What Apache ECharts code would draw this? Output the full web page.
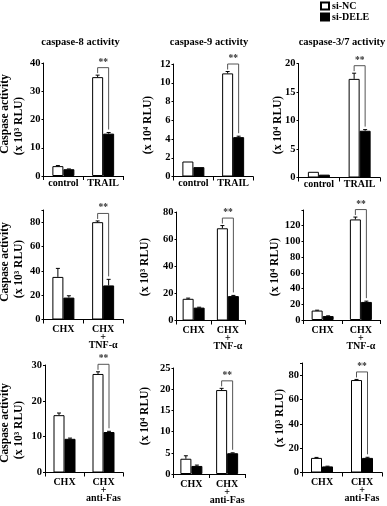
<!DOCTYPE html>
<html><head><meta charset="utf-8">
<script src="https://cdn.jsdelivr.net/npm/echarts@6/dist/echarts.min.js"></script>
<style>html,body{margin:0;padding:0;background:#fff}#c{width:387px;height:506px}</style>
</head><body><div id="c"></div>
<script>
// ---------- categories ----------
const catsTRAIL = ['control', 'TRAIL'];
const catsTNF = ['CHX', 'CHX\n+\nTNF-α'];
const catsFas = ['CHX', 'CHX\n+\nanti-Fas'];
const seriesNames = ['si-NC', 'si-DELE'];
const colTitles = ['caspase-8 activity', 'caspase-9 activity', 'caspase-3/7 activity'];
const sigMarks = ['', '**'];

// ---------- row 1: TRAIL ----------
const c8TrailNC = [3.5, 35], c8TrailNCErr = [0.2, 0.7];
const c8TrailDELE = [2.4, 15], c8TrailDELEErr = [0.1, 0.4];
const c8TrailTicks = [0, 10, 20, 30, 40];

const c9TrailNC = [1.6, 11.0], c9TrailNCErr = [0, 0.2];
const c9TrailDELE = [1.0, 4.2], c9TrailDELEErr = [0, 0.1];
const c9TrailTicks = [0, 2, 4, 6, 8, 10, 12];

const c37TrailNC = [1.0, 17.3], c37TrailNCErr = [0, 1.0];
const c37TrailDELE = [0.5, 8.2], c37TrailDELEErr = [0, 0.2];
const c37TrailTicks = [0, 5, 10, 15, 20];

// ---------- row 2: CHX + TNF-α ----------
const c8TnfNC = [35, 80], c8TnfNCErr = [7, 1];
const c8TnfDELE = [18, 28], c8TnfDELEErr = [1.5, 5];
const c8TnfTicks = [0, 20, 40, 60, 80];

const c9TnfNC = [16, 68], c9TnfNCErr = [0.5, 2];
const c9TnfDELE = [9.5, 18], c9TnfDELEErr = [0.3, 0.5];
const c9TnfTicks = [0, 20, 40, 60, 80];

const c37TnfNC = [12, 128], c37TnfNCErr = [0.5, 3];
const c37TnfDELE = [5, 23], c37TnfDELEErr = [0.3, 1];
const c37TnfTicks = [0, 20, 40, 60, 80, 100, 120];

// ---------- row 3: CHX + anti-Fas ----------
const c8FasNC = [16, 27.5], c8FasNCErr = [0.6, 0.6];
const c8FasDELE = [9.4, 11.3], c8FasDELEErr = [0.2, 0.2];
const c8FasTicks = [0, 10, 20, 30];

const c9FasNC = [3.6, 19.8], c9FasNCErr = [0.7, 0.4];
const c9FasDELE = [1.9, 4.9], c9FasDELEErr = [0.2, 0.1];
const c9FasTicks = [0, 5, 10, 15, 20, 25];

const c37FasNC = [12, 76], c37FasNCErr = [0.4, 0.5];
const c37FasDELE = [5, 12], c37FasDELEErr = [0.2, 0.5];
const c37FasTicks = [0, 20, 40, 60, 80];

// ---------- layout / style ----------
const FONT = '"Liberation Serif", "Times New Roman", serif';
const BAR_W = 11;
const panels = [
  {cats: catsTRAIL, nc: c8TrailNC, ncE: c8TrailNCErr, de: c8TrailDELE, deE: c8TrailDELEErr, ticks: c8TrailTicks, max: 40,
   box: [43.5, 63, 123, 176], lm: 3, names: [['Caspase activity', 5.5, 114], ['(x 10³ RLU)', 19.5, 126]]},
  {cats: catsTRAIL, nc: c9TrailNC, ncE: c9TrailNCErr, de: c9TrailDELE, deE: c9TrailDELEErr, ticks: c9TrailTicks, max: 12,
   box: [173.5, 64, 253, 176.5], lm: 3, names: [['(x 10⁴ RLU)', 148, 125]]},
  {cats: catsTRAIL, nc: c37TrailNC, ncE: c37TrailNCErr, de: c37TrailDELE, deE: c37TrailDELEErr, ticks: c37TrailTicks, max: 20,
   box: [298.5, 63.5, 380, 177.5], lm: 3, names: [['(x 10⁴ RLU)', 278, 125]]},
  {cats: catsTNF, nc: c8TnfNC, ncE: c8TnfNCErr, de: c8TnfDELE, deE: c8TnfDELEErr, ticks: c8TnfTicks, max: 90,
   box: [43.5, 210, 123, 319.5], lm: 6, names: [['Caspase activity', 5.5, 262], ['(x 10³ RLU)', 19.5, 269]]},
  {cats: catsTNF, nc: c9TnfNC, ncE: c9TnfNCErr, de: c9TnfDELE, deE: c9TnfDELEErr, ticks: c9TnfTicks, max: 80,
   box: [176.5, 212, 245, 320.5], lm: 6, names: [['(x 10³ RLU)', 145, 267]]},
  {cats: catsTNF, nc: c37TnfNC, ncE: c37TnfNCErr, de: c37TnfDELE, deE: c37TnfDELEErr, ticks: c37TnfTicks, max: 140,
   box: [303.5, 210, 380, 320], lm: 6, names: [['(x 10⁴ RLU)', 275, 267]]},
  {cats: catsFas, nc: c8FasNC, ncE: c8FasNCErr, de: c8FasDELE, deE: c8FasDELEErr, ticks: c8FasTicks, max: 30,
   box: [45, 365, 123, 472.5], lm: 6, names: [['Caspase activity', 5.5, 423], ['(x 10³ RLU)', 19.5, 430]]},
  {cats: catsFas, nc: c9FasNC, ncE: c9FasNCErr, de: c9FasDELE, deE: c9FasDELEErr, ticks: c9FasTicks, max: 25,
   box: [173.5, 368, 245, 474], lm: 6, names: [['(x 10⁴ RLU)', 145, 416]]},
  {cats: catsFas, nc: c37FasNC, ncE: c37FasNCErr, de: c37FasDELE, deE: c37FasDELEErr, ticks: c37FasTicks, max: 90,
   box: [302, 363, 382, 472.5], lm: 6, names: [['(x 10³ RLU)', 280, 418]]}
];
const titlePos = [[80.5, 42], [209, 42], [342, 42]];

const grid = [], xAxis = [], yAxis = [], series = [], graphic = [];

panels.forEach((p, gi) => {
  const [l, t, r, b] = p.box;
  grid.push({left: l, top: t, width: r - l, height: b - t, containLabel: false});
  xAxis.push({
    type: 'category', gridIndex: gi, data: p.cats,
    axisLine: {show: true, lineStyle: {color: '#000', width: 1}},
    axisTick: {show: true, length: 4, lineStyle: {color: '#000'}},
    axisLabel: {interval: 0, margin: p.lm, color: '#000', fontFamily: FONT, fontWeight: 'bold', fontSize: 10, lineHeight: 8}
  });
  yAxis.push({
    type: 'value', gridIndex: gi, min: p.ticks[0], max: p.max, interval: p.ticks[1] - p.ticks[0],
    splitLine: {show: false},
    axisLine: {show: true, lineStyle: {color: '#000', width: 1}},
    axisTick: {show: true, length: 2, lineStyle: {color: '#000'}},
    axisLabel: {margin: 3, color: '#000', fontFamily: FONT, fontWeight: 'bold', fontSize: 10.5,
      formatter: v => (p.ticks.indexOf(v) >= 0 ? String(v) : '')}
  });
  series.push({
    type: 'bar', name: seriesNames[0], xAxisIndex: gi, yAxisIndex: gi, data: p.nc,
    barWidth: BAR_W, barGap: '0%', itemStyle: {color: '#fff', borderColor: '#000', borderWidth: 1}, z: 2
  });
  series.push({
    type: 'bar', name: seriesNames[1], xAxisIndex: gi, yAxisIndex: gi, data: p.de,
    barWidth: BAR_W, barGap: '0%', itemStyle: {color: '#000', borderColor: '#000', borderWidth: 1}, z: 2
  });
  series.push({
    type: 'custom', xAxisIndex: gi, yAxisIndex: gi, clip: false, z: 5, silent: true,
    encode: {x: 0, y: 1},
    data: p.cats.map((c, i) => [i, p.nc[i], p.ncE[i], p.de[i], p.deE[i], sigMarks[i]]),
    renderItem: (params, api) => {
      const i = api.value(0);
      const cx = api.coord([i, 0])[0];
      const xs = [cx - BAR_W / 2, cx + BAR_W / 2];
      const vals = [[api.value(1), api.value(2)], [api.value(3), api.value(4)]];
      const children = [], tops = [];
      vals.forEach(([v, e], k) => {
        const y0 = api.coord([i, v])[1];
        const y1 = api.coord([i, v + e])[1];
        tops.push(Math.min(y0, y1));
        if (e > 0) {
          children.push({type: 'line', shape: {x1: xs[k], y1: y0, x2: xs[k], y2: y1},
            style: {stroke: '#000', lineWidth: 1}});
          children.push({type: 'line', shape: {x1: xs[k] - 2, y1: y1, x2: xs[k] + 2, y2: y1},
            style: {stroke: '#000', lineWidth: 1}});
        }
      });
      const mark = sigMarks[i];
      if (mark) {
        const by = tops[0] - 7.5;
        children.push({type: 'polyline',
          shape: {points: [[xs[0], tops[0] - 2], [xs[0], by], [xs[1], by], [xs[1], tops[1] - 3]]},
          style: {stroke: '#555', lineWidth: 1, fill: 'none'}});
        children.push({type: 'text', style: {x: (xs[0] + xs[1]) / 2, y: by - 0.5, text: mark,
          font: 'bold 9.5px ' + FONT, fill: '#333',
          align: 'center', verticalAlign: 'bottom', textAlign: 'center', textVerticalAlign: 'bottom'}});
      }
      return {type: 'group', children};
    }
  });
  p.names.forEach(([txt, x, y]) => {
    graphic.push({type: 'text', x: x, y: y, rotation: Math.PI / 2,
      style: {text: txt, font: 'bold 11.5px ' + FONT, fill: '#000',
        align: 'center', verticalAlign: 'middle', textAlign: 'center', textVerticalAlign: 'middle'}});
  });
});

colTitles.forEach((t, k) => {
  graphic.push({type: 'text', x: titlePos[k][0], y: titlePos[k][1],
    style: {text: t, font: 'bold 10.5px ' + FONT, fill: '#000',
      align: 'center', verticalAlign: 'middle', textAlign: 'center', textVerticalAlign: 'middle'}});
});

const chart = echarts.init(document.getElementById('c'), null, {renderer: 'canvas'});
chart.setOption({
  animation: false,
  backgroundColor: '#fff',
  legend: {
    data: seriesNames, orient: 'vertical', left: 320, top: 1, padding: 0,
    itemWidth: 8, itemHeight: 7, itemGap: 1, icon: 'rect', selectedMode: false,
    textStyle: {fontFamily: FONT, fontWeight: 'bold', fontSize: 10, color: '#000', padding: [0, 0, 0, -2]}
  },
  grid, xAxis, yAxis, series, graphic
});
</script></body></html>
